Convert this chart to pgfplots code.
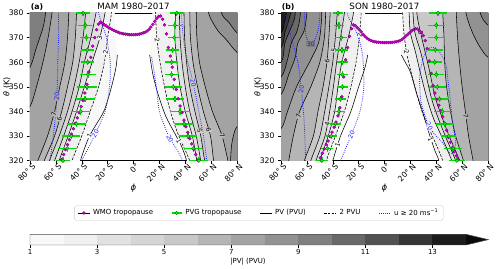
\documentclass[border=0pt]{standalone}
\usepackage{fontspec}
\setmainfont{DejaVu Sans}
\usepackage{pgfplots}
\pgfplotsset{compat=1.18}
\definecolor{g1}{HTML}{F8F8F8}
\definecolor{g2}{HTML}{F0F0F0}
\definecolor{g3}{HTML}{E1E1E1}
\definecolor{g4}{HTML}{D5D5D5}
\definecolor{g5}{HTML}{C8C8C8}
\definecolor{g6}{HTML}{B5B5B5}
\definecolor{g7}{HTML}{A3A3A3}
\definecolor{g8}{HTML}{929292}
\definecolor{g9}{HTML}{7F7F7F}
\definecolor{g10}{HTML}{696969}
\definecolor{g11}{HTML}{525252}
\definecolor{g12}{HTML}{353535}
\definecolor{g13}{HTML}{1C1C1C}
\definecolor{g14}{HTML}{0A0A0A}
\definecolor{wmofill}{HTML}{D400D4}
\definecolor{wmoedge}{HTML}{7A007A}
\definecolor{pvgbar}{HTML}{00DD00}
\definecolor{pvgfill}{HTML}{22EE22}
\definecolor{pvgedge}{HTML}{007700}
\definecolor{ublue}{HTML}{2020FF}
\tikzset{
  lab/.style={font=\fontsize{6.3}{7}\selectfont, inner sep=0.4bp, text=black},
  blab/.style={lab, text=ublue},
}
\pgfplotsset{
  panel/.style={width=207bp, height=147.7bp, scale only axis,
    xmin=-80, xmax=80, ymin=320, ymax=380,
    xtick={-80,-60,...,80},
    xticklabels={80° S,60° S,40° S,20° S,0°,20° N,40° N,60° N,80° N},
    ytick={320,330,...,380},
    tick align=outside, tick pos=left, major tick length=3bp,
    every tick/.style={black, line width=0.5pt},
    tick label style={font=\fontsize{7.7}{8}\selectfont},
    xticklabel style={rotate=45, anchor=north east, xshift=5.5bp, yshift=2.5bp},
    /pgf/number format/assume math mode=true,
    axis line style={line width=0.6pt},
  },
  cl/.style={black, line width=0.55pt, smooth, tension=0.5},
  dl/.style={cl, dash pattern=on 2.6bp off 1.4bp},
  bl/.style={ublue, line width=0.8pt, dash pattern=on 0.8bp off 1.3bp, smooth, tension=0.5},
  wmo/.style={only marks, mark=*, mark size=1.5bp, mark options={fill=wmofill, draw=wmoedge, line width=0.35pt}},
  pvg/.style={only marks, mark=*, mark size=1.8bp, mark options={fill=pvgfill, draw=pvgedge, line width=0.4pt},
    error bars/.cd, x dir=both, x explicit, y dir=both, y fixed=1.3,
    error bar style={pvgbar, line width=1.5pt}, error mark=none},
}
\begin{document}
\begin{tikzpicture}
\useasboundingbox (0,0) rectangle (500bp,269bp);
% ================= Panel (a) =================
\begin{axis}[panel, at={(30bp,108.3bp)}, anchor=south west,
  extra description/.code={
    \node[anchor=base, inner sep=0pt, font=\fontsize{8.7}{10}\selectfont] at (0.5,1.026) {MAM 1980–2017};
    \node[anchor=base west, inner sep=0pt, font=\bfseries\fontsize{7.8}{9}\selectfont] at (0.003,1.026) {(a)};
    \node[rotate=90, font=\fontsize{8}{9}\selectfont] at (-0.112,0.5) {\textit{θ} (K)};
    \node[font=\fontsize{8.5}{9}\selectfont] at (0.5,-0.185) {\textit{ϕ}};
  },
  legend style={at={(1.106,-0.354)}, anchor=center, draw=black!20, rounded corners=1.5bp, fill=white,
    font=\fontsize{7}{8}\selectfont, inner xsep=3bp, inner ysep=1.2bp,
    /tikz/every even column/.append style={column sep=16bp},
    /tikz/every odd column/.append style={column sep=1bp}},
  legend columns=5, legend cell align=left]
\addlegendimage{legend image code/.code={\path (0bp,0bp) -- (12bp,0bp); \fill[wmofill, draw=wmoedge, line width=0.35pt] (6bp,0bp) circle (1.5bp);}}
\addlegendentry{WMO tropopause}
\addlegendimage{legend image code/.code={\draw[pvgbar, line width=1.3pt] (1bp,0bp) -- (11bp,0bp); \fill[pvgfill, draw=pvgedge, line width=0.4pt] (6bp,0bp) circle (1.7bp);}}
\addlegendentry{PVG tropopause}
\addlegendimage{legend image code/.code={\draw[black, line width=0.8pt] (0bp,0bp) -- (12bp,0bp);}}
\addlegendentry{PV (PVU)}
\addlegendimage{legend image code/.code={\draw[black, line width=0.8pt, dash pattern=on 2.4bp off 1.2bp] (0bp,0bp) -- (12bp,0bp);}}
\addlegendentry{2 PVU}
\addlegendimage{legend image code/.code={\draw[ublue, line width=0.8pt, dash pattern=on 0.8bp off 1.3bp] (0bp,0bp) -- (12bp,0bp);}}
\addlegendentry{u ≥ 20 ms\textsuperscript{−1}}
% --- SH fills ---
\addplot[draw=none, fill=g1, smooth, tension=0.5] coordinates {(-110,290) (-50,300) (-45,310) (-41,320) (-34,330) (-23,340) (-17,350) (-13.5,358) (-12.5,363) (-14,370) (-14.5,380) (-14.5,390) (-14.5,400) (-110,410)};
\addplot[dl, fill=g2] coordinates {(-110,290) (-59,300) (-53,310) (-47.5,320) (-40,330) (-33.5,340) (-27,350) (-22.5,360) (-20,370) (-17,380) (-15,390) (-13,400) (-110,410)};
\addplot[cl, fill=g3] coordinates {(-110,290) (-70,300) (-64,310) (-57.5,320) (-50.5,330) (-44,340) (-38,350) (-32,360) (-26,370) (-22,380) (-19,390) (-16,400) (-110,410)};
\addplot[cl, fill=g4] coordinates {(-110,290) (-74,300) (-67.5,310) (-61,320) (-54,330) (-47.5,340) (-42,350) (-38,360) (-33,370) (-29,380) (-26,390) (-23,400) (-110,410)};
\addplot[cl, fill=g5] coordinates {(-110,290) (-78,300) (-71.5,310) (-65,320) (-57.5,330) (-51,340) (-46,350) (-42,360) (-39,370) (-37,380) (-35,390) (-33,400) (-110,410)};
\addplot[cl, fill=g6] coordinates {(-110,290) (-83,300) (-76,310) (-69,320) (-61,330) (-55.5,340) (-51,350) (-47,360) (-45,370) (-44,380) (-43,390) (-42,400) (-110,410)};
\addplot[cl, fill=g7] coordinates {(-110,290) (-90,300) (-82,310) (-74,320) (-66.5,330) (-61,340) (-57,350) (-53,360) (-51,370) (-50,380) (-49.5,390) (-49,400) (-110,410)};
\addplot[cl, fill=g8] coordinates {(-110,320) (-100,330) (-90,336) (-80,342) (-75,350) (-70,360) (-66,370) (-63,380) (-61,390) (-60,400) (-110,410)};
\addplot[cl, fill=g9] coordinates {(-110,345) (-90,352) (-80,358) (-75,366) (-70,374) (-68,380) (-67,390) (-66,400) (-110,410)};
% --- NH fills ---
\addplot[draw=none, fill=g1, smooth, tension=0.5] coordinates {(110,290) (47,300) (45,310) (41,320) (37,326) (32,331) (25,338) (19,347) (15,355) (12.5,363) (14,370) (14.5,380) (14.5,390) (14.5,400) (110,410)};
\addplot[dl, fill=g2] coordinates {(110,290) (52,300) (50,310) (43.5,320) (35,330) (28.5,340) (24,350) (20.5,360) (18,370) (17,380) (16,390) (15,400) (110,410)};
\addplot[cl, fill=g3] coordinates {(110,290) (57,300) (53,310) (49,320) (45.5,330) (40,340) (36,350) (33.5,360) (32,370) (32.5,380) (33,390) (33.5,400) (110,410)};
\addplot[cl, fill=g4] coordinates {(110,290) (60,300) (56,310) (52,320) (48.5,330) (43.5,340) (40,350) (37.5,360) (36,370) (35.5,380) (35.5,390) (35.5,400) (110,410)};
\addplot[cl, fill=g5] coordinates {(110,290) (63,300) (59,310) (55,320) (52,330) (47.5,340) (43.5,350) (41,360) (39.5,370) (39,380) (38.5,390) (38.5,400) (110,410)};
\addplot[cl, fill=g6] coordinates {(110,290) (70,300) (66,310) (62,320) (59.5,330) (54,340) (49.5,350) (46,360) (44,370) (43.5,380) (43,390) (43,400) (110,410)};
\addplot[cl, fill=g7] coordinates {(110,290) (81,300) (77,310) (73,320) (68.5,330) (61,340) (55.5,350) (51,360) (49,370) (48.5,380) (48,390) (48,400) (110,410)};
\addplot[cl, fill=g8] coordinates {(110,410) (56,400) (57,390) (58,380) (65,373) (72,369) (80,364) (95,358) (110,352)};
\addplot[cl, fill=g9] coordinates {(110,410) (66,400) (67,390) (68,380) (74,376) (80,372) (95,366) (110,362)};
\addplot[cl, fill=g8] coordinates {(110,290) (73,300) (74,310) (75,320) (76,327) (79,333) (85,336) (95,338) (110,338)};
% --- 1 PVU lines ---
\addplot[cl] coordinates {(-50,300) (-45,310) (-41,320) (-34,330) (-23,340) (-17,350) (-13.5,358) (-12.5,363)};
\addplot[cl] coordinates {(47,300) (45,310) (41,320) (37,326) (32,331) (25,338) (19,347) (15,355) (12.5,363)};
% --- wind ---
\addplot[bl] coordinates {(-66,310) (-64.5,320) (-62,330) (-60,340) (-59,350) (-58.5,360) (-58,370) (-58,380) (-58,390)};
\addplot[bl] coordinates {(-50,310) (-40,320) (-30,330.5) (-22,340) (-18.5,350) (-18,360) (-21,370) (-27,380) (-30,390)};
\addplot[bl] coordinates {(14,362) (16,356) (18,348) (20,340) (24,334) (28.2,329) (33,325) (38,320) (43,312)};
\addplot[bl] coordinates {(36.5,390) (37,380) (38.5,370) (41,362) (44,356) (46.2,351.5) (49,344) (52.7,334) (55,327) (56.5,320) (58,310)};
% --- labels ---
\node[lab, fill=g6, rotate=77] at (axis cs:-61.5,339) {7};
\node[lab, fill=g5, rotate=75] at (axis cs:-57.2,337) {6};
\node[lab, fill=g2, rotate=72] at (axis cs:-26,370) {3};
\node[lab, fill=g1, rotate=82] at (axis cs:-21.5,364) {2};
\node[lab, fill=white, rotate=62] at (axis cs:-34,330) {1};
\node[blab, fill=g7, rotate=86] at (axis cs:-59.3,346) {20};
\node[blab, fill=white, rotate=62] at (axis cs:-29.5,331) {20};
\node[lab, fill=g1, rotate=-82] at (axis cs:18.3,369) {2};
\node[lab, fill=white, rotate=-62] at (axis cs:35,328) {1};
\node[lab, fill=g4, rotate=-74] at (axis cs:51.1,332) {5};
\node[lab, fill=g5, rotate=-74] at (axis cs:58.1,332.5) {6};
\node[lab, fill=g6, rotate=-70] at (axis cs:68.5,330) {7};
\node[blab, fill=white, rotate=-63] at (axis cs:28.2,329) {20};
\node[blab, fill=g5, rotate=-78] at (axis cs:46.2,351.5) {20};
% --- WMO tropopause ---
\addplot[wmo] coordinates {(-57,318) (-55.5,320.5) (-54,322.5) (-52.5,324.5) (-51,326.5) (-49.5,328.5) (-48,330.8) (-46.5,333) (-45,335.2) (-43.5,337.4) (-42,339.5) (-40.5,342) (-39,344.5) (-37.5,347.5) (-36,351) (-34.5,356) (-33,362) (-31.5,366.5) (-30,370) (-28.5,373.2) (-27,375.5) (-25.5,376.3) (-24,375.8) (-22.5,375.2) (-21,374.7) (-19.5,374.2) (-18,373.8) (-16.5,373.3) (-15,372.9) (-13.5,372.5) (-12,372.2) (-10.5,371.9) (-9,371.7) (-7.5,371.5) (-6,371.4) (-4.5,371.3) (-3,371.2) (-1.5,371.2) (0,371.2) (1.5,371.2) (3,371.3) (4.5,371.4) (6,371.6) (7.5,371.9) (9,372.2) (10.5,372.7) (12,373.4) (13.5,374.3) (15,375.4) (16.5,376.6) (18,377.8) (19.5,378.6) (21,378.8) (22.5,377.5) (24,375.2) (25.5,371.5) (27,366) (28.5,362.5) (30,358) (31.5,353) (33,349) (34.5,345.2) (36,342.2) (37.5,339.5) (39,336.5) (40.5,333.8) (42,331.5) (43.5,329) (45,326.8) (46.5,324.6) (48,322.5) (49.5,320.2) (51,318)};
% --- PVG tropopause ---
\addplot[pvg] table[x=p, y=t, x error=e] {
p t e
-39 380 5.5
-37.3 375 5.5
-36.5 370 5
-35.7 365 5
-35.4 360 5
-35.2 355 6
-36 350 7.5
-37.3 345 7.5
-40.8 340 7.5
-44.2 335 7.5
-48.1 330 7
-51.2 325 7
-54.5 320 5.5
33.4 380 5.5
32 375 5.5
31.5 370 5
30.3 365 5
29.5 360 5
29.5 355 5.5
30.8 350 6.5
32 345 7
35.9 340 7.5
39.2 335 7.5
42.3 330 7
46.2 325 7
50.6 320 7
};
\end{axis}
% ================= Panel (b) =================
\begin{axis}[panel, at={(281bp,108.3bp)}, anchor=south west,
  extra description/.code={
    \node[anchor=base, inner sep=0pt, font=\fontsize{8.7}{10}\selectfont] at (0.5,1.026) {SON 1980–2017};
    \node[anchor=base west, inner sep=0pt, font=\bfseries\fontsize{7.8}{9}\selectfont] at (0.003,1.026) {(b)};
    \node[rotate=90, font=\fontsize{8}{9}\selectfont] at (-0.112,0.5) {\textit{θ} (K)};
    \node[font=\fontsize{8.5}{9}\selectfont] at (0.5,-0.185) {\textit{ϕ}};
  }]
% --- SH fills ---
\addplot[draw=none, fill=g1, smooth, tension=0.5] coordinates {(-110,290) (-52,300) (-46,310) (-40,320) (-34,330) (-26,340) (-20,350) (-15,358) (-13,363) (-14,370) (-15,380) (-15,390) (-15,400) (-110,410)};
\addplot[dl, fill=g2] coordinates {(-110,290) (-57,300) (-51,310) (-45,320) (-38,330) (-31,340) (-26,350) (-22,360) (-19.5,370) (-18,380) (-17,390) (-16,400) (-110,410)};
\addplot[cl, fill=g3] coordinates {(-110,290) (-62,300) (-56,310) (-50,320) (-43.5,330) (-38.5,340) (-36,350) (-33,360) (-28,370) (-24,380) (-22,390) (-20,400) (-110,410)};
\addplot[cl, fill=g4] coordinates {(-110,290) (-65,300) (-59,310) (-53,320) (-46,330) (-42.4,340) (-39.5,350) (-37,360) (-34,370) (-31,380) (-29,390) (-27,400) (-110,410)};
\addplot[cl, fill=g5] coordinates {(-110,290) (-69,300) (-63,310) (-57,320) (-50,330) (-46.2,340) (-43,350) (-40,360) (-38,370) (-36.5,380) (-35,390) (-34,400) (-110,410)};
\addplot[cl, fill=g6] coordinates {(-110,290) (-74,300) (-68,310) (-62,320) (-55,330) (-51.4,340) (-47.5,350) (-44.5,360) (-43,370) (-42,380) (-41,390) (-40,400) (-110,410)};
\addplot[cl, fill=g7] coordinates {(-110,290) (-80,300) (-77,310) (-74,320) (-70.5,330) (-65.6,340) (-57,350) (-50,360) (-46.5,370) (-45.5,380) (-45,390) (-44.5,400) (-110,410)};
\addplot[cl, fill=g8] coordinates {(-110,320) (-95,327) (-80,333) (-75,340) (-68,350) (-58,360) (-51,367.8) (-49,375) (-48.5,380) (-48,390) (-47.5,400) (-110,410)};
\addplot[cl, fill=g9] coordinates {(-110,338) (-95,343) (-80,347) (-74,355) (-69,362) (-67,367.8) (-62,373) (-60,380) (-59,390) (-58,400) (-110,410)};
\addplot[cl, fill=g10] coordinates {(-110,346) (-95,350) (-80,354) (-75,361) (-72,367.8) (-68,372) (-66,376) (-65,380) (-64,390) (-63,400) (-110,410)};
\addplot[cl, fill=g11] coordinates {(-110,352) (-95,356) (-80,360) (-77,367.8) (-73,373) (-70,377) (-69,380) (-68,390) (-67,400) (-110,410)};
\addplot[cl, fill=g12] coordinates {(-110,358) (-95,362) (-80,366) (-77,372) (-74,377) (-72.5,380) (-71,390) (-70,400) (-110,410)};
\addplot[cl, fill=g13] coordinates {(-110,364) (-95,368) (-80,372) (-77.5,376) (-76,380) (-75,390) (-74,400) (-110,410)};
% --- NH fills ---
\addplot[draw=none, fill=g1, smooth, tension=0.5] coordinates {(110,290) (50,300) (46,310) (42,320) (39,324) (34.5,331) (30,339) (25,347) (20,356) (16,360) (13,363) (13.5,370) (13.5,380) (13.5,390) (13.5,400) (110,410)};
\addplot[dl, fill=g2] coordinates {(110,290) (55,300) (50,310) (45,320) (37,330) (31,337) (26,345) (21,355) (17,364) (15,372) (14,380) (13,390) (12,400) (110,410)};
\addplot[cl, fill=g3] coordinates {(110,290) (64,300) (58,310) (52,320) (44,330) (38,337) (33,345) (28,355) (24,364) (20,372) (19,380) (18,390) (17.5,400) (110,410)};
\addplot[cl, fill=g4] coordinates {(110,290) (67,300) (61,310) (55,320) (47,330) (41,338) (36.5,345) (32,355) (28,364) (23.5,372) (22,380) (21,390) (20.5,400) (110,410)};
\addplot[cl, fill=g5] coordinates {(110,290) (69,300) (63,310) (58,320) (50,330) (43.5,339) (39,346) (35,356) (31,365) (27,374) (25,380) (24,390) (23.5,400) (110,410)};
\addplot[cl, fill=g6] coordinates {(110,290) (71,300) (66,310) (61,320) (55,330) (51,340) (48,350) (46.5,360) (46,370) (45,380) (44,390) (43.5,400) (110,410)};
\addplot[cl, fill=g7] coordinates {(110,290) (76,300) (72,310) (68.5,320) (65,330) (62.5,340) (60,350) (58,360) (56.5,370) (55.5,380) (55,390) (54.5,400) (110,410)};
\addplot[cl, fill=g8] coordinates {(110,410) (61,400) (62,390) (63,380) (68,372) (74,366) (80,362) (95,357) (110,353)};
\addplot[cl, fill=g9] coordinates {(110,410) (71,400) (72,390) (74,380) (80,375) (95,370) (110,366)};
% --- 1 PVU lines ---
\addplot[cl] coordinates {(-52,300) (-46,310) (-40,320) (-34,330) (-26,340) (-20,350) (-15,358) (-13,363)};
\addplot[cl] coordinates {(50,300) (46,310) (42,320) (39,324) (34.5,331) (30,339) (25,347) (20,356) (16,360) (13,363)};
% --- wind ---
\addplot[bl] coordinates {(-79,390) (-77,380) (-72,370) (-67,360) (-64.3,349) (-62,335) (-61,320) (-60.5,310)};
\addplot[bl] coordinates {(-50,390) (-50,380) (-51,374) (-53.5,369.5) (-57,367.5) (-60,369.5) (-61.5,374) (-62,380) (-62,390)};
\addplot[bl] coordinates {(-30,390) (-29,380) (-21.5,372) (-17,363) (-16,350) (-19,340) (-25.6,330.5) (-34,320) (-40,312)};
\addplot[bl] coordinates {(50.4,347.4) (49,353) (47.8,358.3) (45,362) (42,364.5) (38,366) (33.6,365.4) (29.5,361) (27.2,354.2) (27.5,348) (28.4,343.4) (32.3,336.6) (36.2,332.5) (40,330) (45.2,327.1) (50.4,323) (53.5,323.5) (55,327) (54.2,330.5) (53,334) (51.5,341) (50.4,347.4)};
% --- labels ---
\node[lab, fill=g6, rotate=75] at (axis cs:-66.6,338) {7};
\node[lab, fill=g5, rotate=81] at (axis cs:-44.4,360.5) {6};
\node[lab, fill=g4, rotate=84] at (axis cs:-39,365) {5};
\node[lab, fill=g3, rotate=79] at (axis cs:-44.2,335) {4};
\node[lab, fill=white, rotate=72] at (axis cs:-36.2,326.4) {1};
\node[lab, fill=g1, rotate=84] at (axis cs:-19.4,371) {2};
\node[blab, fill=g9] at (axis cs:-57,367.5) {30};
\node[blab, fill=g7, rotate=84] at (axis cs:-64.3,349) {20};
\node[blab, fill=white, rotate=66] at (axis cs:-25.6,330.5) {20};
\node[lab, fill=g4, rotate=-78] at (axis cs:28,372) {5};
\node[lab, fill=g1, rotate=-78] at (axis cs:17,364) {2};
\node[lab, fill=g6, rotate=-83] at (axis cs:63,338) {7};
\node[lab, fill=white, rotate=-68] at (axis cs:35.5,328.5) {1};
\node[blab, fill=g1, rotate=-63] at (axis cs:34.8,334) {20};
% --- WMO tropopause ---
\addplot[wmo] coordinates {(-52.5,318) (-51,319.5) (-49.5,321.2) (-48,323) (-46.5,324.8) (-45,326.5) (-43.5,328) (-42,329.8) (-40.5,331.6) (-39,333.6) (-37.5,335.7) (-36,338.2) (-34.5,341.5) (-33,346) (-31.5,354) (-30,361) (-28.5,366) (-27,370.5) (-25.5,373.6) (-24,375.2) (-22.5,374.8) (-21,374) (-19.5,373.2) (-18,372.3) (-16.5,371.3) (-15,370.5) (-13.5,369.8) (-12,369.2) (-10.5,368.8) (-9,368.5) (-7.5,368.3) (-6,368.2) (-4.5,368.1) (-3,368) (-1.5,368) (0,368) (1.5,368) (3,368) (4.5,368) (6,368.1) (7.5,368.2) (9,368.3) (10.5,368.5) (12,368.8) (13.5,369.3) (15,369.9) (16.5,370.6) (18,371.3) (19.5,372) (21,372.7) (22.5,373.3) (24,373.6) (25.5,373.5) (27,372.8) (28.5,371.9) (30,370.8) (31.5,368.8) (33,365.5) (34.5,360.5) (36,355.5) (37.5,350.5) (39,347.5) (40.5,345) (42,342.5) (43.5,340.3) (45,337.8) (46.5,335.2) (48,332.4) (49.5,329.5) (51,327.5) (52.5,325.3) (54,323.6) (55.5,322) (57,320.5) (58.5,319)};
% --- PVG tropopause ---
\addplot[pvg] table[x=p, y=t, x error=e] {
p t e
-36 380 4
-35.2 375 4
-33.4 370 4.5
-32.9 365 4.5
-32.6 360 4
-32.6 355 4
-32.6 350 4.5
-34.1 345 4.5
-35.2 340 4.5
-38 335 4.5
-41.1 330 4.5
-44.2 325 4.5
-48.5 320 4.5
41.3 380 7
40 375 6.5
40 370 6.5
39.3 365 6
38.8 360 5.5
40 355 6
40.8 350 6.5
42.6 345 7
44.7 340 6.5
46.5 335 7
49.6 330 6
52.9 325 7
56 320 6.5
};
\end{axis}
% ================= Colour bar =================
\begin{axis}[at={(30bp,24bp)}, anchor=south west, width=436bp, height=10.7bp, scale only axis,
  xmin=1, xmax=14, ymin=0, ymax=1, clip=false,
  axis line style={draw=none}, ytick=\empty, xtick={1,3,...,13},
  tick align=outside, tick pos=left, major tick length=2.5bp,
  every tick/.style={black, line width=0.5pt},
  xticklabel style={font=\fontsize{7}{8}\selectfont, yshift=2bp},
  /pgf/number format/assume math mode=true,
  extra description/.code={\node[font=\fontsize{7}{8}\selectfont, anchor=base] at (0.5,0) [yshift=-18bp] {|PV| (PVU)};}]
\addplot[fill=g1, draw=none] coordinates {(1,0) (2,0) (2,1) (1,1)};
\addplot[fill=g2, draw=none] coordinates {(2,0) (3,0) (3,1) (2,1)};
\addplot[fill=g3, draw=none] coordinates {(3,0) (4,0) (4,1) (3,1)};
\addplot[fill=g4, draw=none] coordinates {(4,0) (5,0) (5,1) (4,1)};
\addplot[fill=g5, draw=none] coordinates {(5,0) (6,0) (6,1) (5,1)};
\addplot[fill=g6, draw=none] coordinates {(6,0) (7,0) (7,1) (6,1)};
\addplot[fill=g7, draw=none] coordinates {(7,0) (8,0) (8,1) (7,1)};
\addplot[fill=g8, draw=none] coordinates {(8,0) (9,0) (9,1) (8,1)};
\addplot[fill=g9, draw=none] coordinates {(9,0) (10,0) (10,1) (9,1)};
\addplot[fill=g10, draw=none] coordinates {(10,0) (11,0) (11,1) (10,1)};
\addplot[fill=g11, draw=none] coordinates {(11,0) (12,0) (12,1) (11,1)};
\addplot[fill=g12, draw=none] coordinates {(12,0) (13,0) (13,1) (12,1)};
\addplot[fill=g13, draw=none] coordinates {(13,0) (14,0) (14,1) (13,1)};
\addplot[fill=g14, draw=none] coordinates {(14,0) (14.665,0.5) (14,1)};
\addplot[black!70, line width=0.5pt] coordinates {(1,0) (14,0) (14.665,0.5) (14,1) (1,1) (1,0)};
\end{axis}
\end{tikzpicture}
\end{document}
